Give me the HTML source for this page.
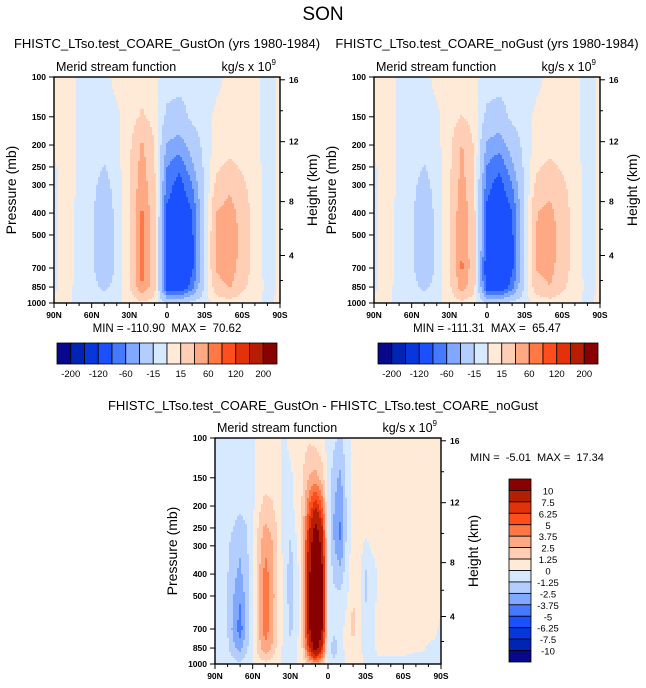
<!DOCTYPE html>
<html><head><meta charset="utf-8"><style>
html,body{margin:0;padding:0;background:#fff;}
svg{display:block;font-family:"Liberation Sans",sans-serif;}
</style></head><body>
<svg id="fig" width="646" height="688" viewBox="0 0 646 688">
<text x="323" y="20" font-size="19" text-anchor="middle">SON</text>
</svg>
<script>
// ---------- data ----------
const pressures = [100,150,200,250,300,400,500,700,850,1000];
const latsA = [90,80,70,60,50,40,30,20,10,0,-10,-20,-30,-40,-50,-60,-70,-80,-90];
const gustOn = [
[2,3,-1,-3,-3,3,5,5,3,-5,-6,-6,-5,-3,3,3,2,-3,1],
[2,3,-1,-4,-5,-2,5,18,8,-20,-25,-10,-5,3,5,5,2,-3,1],
[2,3,-1,-5,-8,-4,10,45,15,-42,-50,-30,-8,5,8,6,2,-3,1],
[-1,3,-1,-8,-16,-6,12,50,18,-60,-75,-45,-10,12,20,12,3,-3,1],
[-1,3,-1,-10,-22,-8,14,55,20,-70,-90,-60,-15,22,35,20,4,-3,1],
[-1,3,-2,-12,-28,-10,15,64,25,-85,-100,-82,-15,42,50,30,5,-3,1],
[-1,3,-2,-12,-30,-12,15,70,28,-92,-105,-85,-15,45,55,32,5,-3,1],
[-1,3,-2,-12,-28,-12,15,70,28,-100,-110,-85,-15,45,52,30,5,-3,1],
[-1,2,-2,-8,-20,-8,12,60,25,-95,-105,-70,-12,30,42,20,4,-2,1],
[1,1,-1,-3,-3,-2,3,10,5,-15,-20,-10,-3,3,5,3,1,-1,1]];
const noGust = [
[2,3,-1,-3,-3,3,5,5,3,-5,-6,-6,-5,-3,3,3,2,-3,1],
[2,3,-1,-4,-5,-2,5,16,6,-20,-25,-10,-5,3,5,5,2,-3,1],
[2,3,-1,-5,-8,-4,8,42,12,-44,-52,-30,-8,5,8,6,2,-3,1],
[-1,3,-1,-8,-16,-6,10,46,15,-62,-76,-45,-10,12,20,12,3,-3,1],
[-1,3,-1,-10,-22,-8,12,50,16,-72,-90,-60,-15,22,33,20,4,-3,1],
[-1,3,-2,-12,-28,-10,13,58,20,-86,-100,-82,-15,40,47,28,5,-3,1],
[-1,3,-2,-12,-30,-12,13,62,22,-93,-105,-85,-15,43,50,30,5,-3,1],
[-1,3,-2,-12,-28,-12,13,64,22,-101,-111,-85,-15,43,48,28,5,-3,1],
[-1,2,-2,-8,-20,-8,10,52,20,-96,-105,-70,-12,28,40,20,4,-2,1],
[1,1,-1,-3,-3,-2,3,9,4,-15,-20,-10,-3,3,5,3,1,-1,1]];
const latsD = [90,85,80,75,70,65,60,55,50,45,40,35,30,25,20,15,10,5,0,-5,-10,-15,-20,-25,-30,-35,-40,-45,-50,-55,-60,-65,-70,-75,-80,-85,-90];
const diffVals = [
[-.5,-.5,-.5,-.5,-.5,-.5,-.3,.5,.6,.6,.5,-.3,.4,.6,.8,1,.8,.3,-.5,-1,-1.5,-.5,.5,.5,.4,.4,.3,.3,.3,.3,.3,.3,.3,.3,.3,.3,.3],
[-.5,-.5,-.5,-.5,-.6,-.6,-.3,.6,.8,.8,.6,-.3,-.3,.5,1.2,2.6,3,2,-.3,-2,-2.8,-.8,.6,.5,.4,.4,.3,.3,.3,.3,.3,.3,.3,.3,.3,.3,.3],
[-.5,-.5,-.6,-.8,-1,-.8,-.3,1,1.6,1.4,.8,-.4,-.5,.4,1.5,5,7.5,5,-.3,-2.5,-3.5,-1,.8,.4,.3,.3,.3,.3,.3,.3,.3,.3,.3,.3,.3,.3,.3],
[-.5,-.5,-.8,-1.3,-1.8,-1.3,-.3,1.5,2.8,2.2,1,-.5,-.8,.3,2,7,11,8,-.5,-2.8,-4,-1,.8,.4,.3,.3,.3,.3,.3,.3,.3,.3,.3,.3,.3,.3,.3],
[-.5,-.5,-1,-1.8,-2.3,-1.5,-.3,2,3.5,2.8,1.2,-.6,-1.5,-.3,2.2,8.5,12.5,9.5,-.5,-2.5,-3.8,-.8,.6,.5,-.3,.3,.3,.3,.3,.3,.3,.3,.3,.3,.3,.3,.3],
[-.5,-.5,-1.2,-2.2,-2.8,-1.8,-.3,2.3,4.3,3.2,1.3,-.6,-1.7,-.8,2.2,9.5,14,11,-.3,-1.5,-2,-.5,1,.3,-1.5,-.8,.3,.3,.3,.3,.3,.3,.3,.3,.3,.3,.3],
[-.5,-.6,-1.3,-2.5,-3.5,-2,-.3,2.5,4.5,3.3,1.3,-.6,-1.7,-.8,2,10,15,11,-.3,-1,-1,-.2,1.2,.2,-1.5,-.6,.3,.3,.3,.3,.3,.3,.3,.3,.3,.3,.3],
[-.5,-.6,-1.3,-3,-4.5,-2.2,-.3,2.6,4.5,3.2,1.2,-.5,-1.5,-.6,1.8,9.5,15,10.5,-.3,-.8,-.5,.5,1.8,.3,-.5,-.3,.3,.3,.3,.3,.3,.3,.3,.3,.3,.2,-.2],
[-.4,-.5,-1,-2.2,-3,-1.5,-.2,2,3.5,2.5,.8,-.4,-1,-.3,1.5,7,12,7.5,-.8,-2,-.6,.5,.8,.2,-.3,-.3,.2,.2,.2,.2,.2,.2,.1,.1,-.1,-.2,-.3],
[-.2,-.2,-.5,-.8,-1,-.6,-.1,.5,.8,.6,.2,-.2,-.3,-.1,.5,2,3,2,-.3,-.8,-.3,.2,.3,.1,-.1,-.2,-.2,-.2,-.2,-.2,-.2,-.3,-.3,-.3,-.3,-.4,-.4]];
const boundsMain = [-200,-160,-120,-80,-60,-40,-15,0,15,40,60,80,120,160,200];
const mainLabels = ["-200","-120","-60","-15","15","60","120","200"];
const boundsDiff = [-10,-7.5,-6.25,-5,-3.75,-2.5,-1.25,0,1.25,2.5,3.75,5,6.25,7.5,10];
const diffLabels = ["10","7.5","6.25","5","3.75","2.5","1.25","0","-1.25","-2.5","-3.75","-5","-6.25","-7.5","-10"];
const presTicks = [100,150,200,250,300,400,500,700,850,1000];
const latTicks = [90,60,30,0,-30,-60,-90];
const latTickLabels = ["90N","60N","30N","0","30S","60S","90S"];
const heightTicks = [4,8,12,16];
const colors = ["#08088c","#0224b4","#0636dc","#1a50ff","#4579ff","#80a8ff","#b4cdff","#d7e9ff","#ffead8","#ffceb4","#ffa884","#ff7846","#ff4e1e","#e3320a","#b51e00","#880000"];

const NS = "http://www.w3.org/2000/svg";
const svg = document.getElementById('fig');
function mk(tag, attrs, parent){ const e=document.createElementNS(NS,tag); for(const k in attrs) e.setAttribute(k,attrs[k]); (parent||svg).appendChild(e); return e; }
function txt(s, attrs, parent){ const e=mk('text',attrs,parent); e.textContent=s; return e; }

function colorIdx(v,b){ let i=0; while(i<b.length && v>=b[i]) i++; return i; }
function hToP(z){ z*=1000; if(z<=11000) return 1013.25*Math.pow(1-2.25577e-5*z,5.25588); return 226.32*Math.exp(-(z-11000)/6341.6); }

function panel(name, x0,y0,w,h, lats, data, bounds){
  const g = mk('g',{});
  
  
  const xS = lat => x0 + (90-lat)/180*w;
  const yS = p => y0 + (Math.log10(p)-2)*h;
  const lp = pressures.map(p=>Math.log10(p));
  const sample = (lat, lgp)=>{
    let j=0; while(j<lats.length-2 && lat<lats[j+1]) j++;
    let i=0; while(i<lp.length-2 && lgp>lp[i+1]) i++;
    const tx=Math.min(1,Math.max(0,(lats[j]-lat)/(lats[j]-lats[j+1])));
    const ty=Math.min(1,Math.max(0,(lgp-lp[i])/(lp[i+1]-lp[i])));
    const a=data[i][j]*(1-tx)+data[i][j+1]*tx, b=data[i+1][j]*(1-tx)+data[i+1][j+1]*tx;
    return a*(1-ty)+b*ty;
  };
  const st=2, field=mk('g',{},g);
  
  
  for(let py=0; py<h; py+=st){
    const lgp = 2 + (py+st/2)/h;
    let runStart=0, runC=null;
    for(let px=0; px<=w; px+=st){
      let c=null;
      if(px<w){ const lat=90-(px+st/2)/w*180; c=colorIdx(sample(lat,lgp),bounds); }
      if(c!==runC){
        if(runC!==null){
          const r=mk('rect',{x:x0+runStart,y:y0+py,width:Math.min(px,w)-runStart+0.5,height:st+0.5,fill:colors[runC]},field);
          
          
        }
        runStart=px; runC=c;
      }
    }
  }
  const frame=mk('rect',{x:x0,y:y0,width:w,height:h,fill:'none',stroke:'#000','stroke-width':1.4},g);
  
  
  presTicks.forEach(p=>{
    const y=yS(p);
    mk('line',{x1:x0-5,x2:x0,y1:y,y2:y,stroke:'#000','stroke-width':1},g);
    const t=txt(String(p),{x:x0-8,y:y+3,'font-size':8.5,'font-weight':'bold','text-anchor':'end'},g);
    
    
  });
  for(let lat=90; lat>=-90; lat-=10){
    const x=xS(lat), maj=(lat%30===0);
    mk('line',{x1:x,x2:x,y1:y0+h,y2:y0+h+(maj?5:3),stroke:'#000','stroke-width':1},g);
  }
  latTicks.forEach((lat,i)=>{
    const t=txt(latTickLabels[i],{x:xS(lat),y:y0+h+15,'font-size':8.5,'font-weight':'bold','text-anchor':'middle'},g);
    
    
  });
  for(let z=2; z<=16; z+=2){
    const y=yS(hToP(z)); const maj=(z%4===0);
    mk('line',{x1:x0+w,x2:x0+w+(maj?5:3),y1:y,y2:y,stroke:'#000','stroke-width':1},g);
  }
  heightTicks.forEach(z=>{
    const t=txt(String(z),{x:x0+w+9,y:yS(hToP(z))+3,'font-size':8.5,'font-weight':'bold'},g);
    
    
  });
  const a=txt('Merid stream function',{x:x0+2,y:y0-6,'font-size':12.5},g);
  
  
  const u=mk('text',{x:x0+w-4,y:y0-6,'font-size':12.5,'text-anchor':'end'},g);
  u.innerHTML='kg/s x 10<tspan font-size="8" dy="-6">9</tspan>';
  
  
  const yl=txt('Pressure (mb)',{x:0,y:0,'font-size':14,'text-anchor':'middle',transform:`translate(${x0-38},${y0+h/2}) rotate(-90)`},g);
  
  
  const hl=txt('Height (km)',{x:0,y:0,'font-size':14,'text-anchor':'middle',transform:`translate(${x0+w+37},${y0+h/2}) rotate(-90)`},g);
  
  
  return g;
}

function hbar(name,x0,y0,w,h){
  const g=mk('g',{});  
  const bw=w/16;
  colors.forEach((c,i)=>{
    const r=mk('rect',{x:x0+i*bw,y:y0,width:bw,height:h,fill:c,stroke:'#000','stroke-width':0.8},g);
    
    
  });
  mainLabels.forEach((s,k)=>{
    const t=txt(s,{x:x0+(2*k+1)*bw,y:y0+h+13,'font-size':9.5,'text-anchor':'middle'},g);
    
    
  });
}

function t(s,x,y,size,name,anchor){ const e=txt(s,{x:x,y:y,'font-size':size,'text-anchor':anchor||'middle'});   return e; }

t('FHISTC_LTso.test_COARE_GustOn (yrs 1980-1984)',167,48,13,'panel1-title');
t('FHISTC_LTso.test_COARE_noGust (yrs 1980-1984)',487,48,13,'panel2-title');
t('FHISTC_LTso.test_COARE_GustOn - FHISTC_LTso.test_COARE_noGust',323,410,13,'panel3-title');

panel('panel-gust-on',54,77,226,226,latsA,gustOn,boundsMain);
panel('panel-no-gust',374,77,226,226,latsA,noGust,boundsMain);
panel('panel-difference',215,438,226,226,latsD,diffVals,boundsDiff);

t('MIN = -110.90\u00a0\u00a0MAX =\u00a0\u00a070.62',167,332,11.5,'panel1-min-max');
t('MIN = -111.31\u00a0\u00a0MAX =\u00a0\u00a065.47',487,332,11.5,'panel2-min-max');
t('MIN =\u00a0\u00a0-5.01\u00a0\u00a0MAX =\u00a0\u00a017.34',470,461,11,'panel3-min-max','start');

hbar('colorbar-main-1',57,343,220,21);
hbar('colorbar-main-2',378,343,220,21);

(function(){
  const g=mk('g',{});  
  const x0=509,y0=479,w=22,h=183,bh=h/16;
  colors.slice().reverse().forEach((c,i)=>{
    const r=mk('rect',{x:x0,y:y0+i*bh,width:w,height:bh,fill:c,stroke:'#000','stroke-width':0.8},g);
    
    
  });
  diffLabels.forEach((s,i)=>{
    const e=txt(s,{x:x0+w+17,y:y0+(i+1)*bh+4,'font-size':9.5,'text-anchor':'middle'},g);
    
    
  });
})();
</script>
</body></html>
